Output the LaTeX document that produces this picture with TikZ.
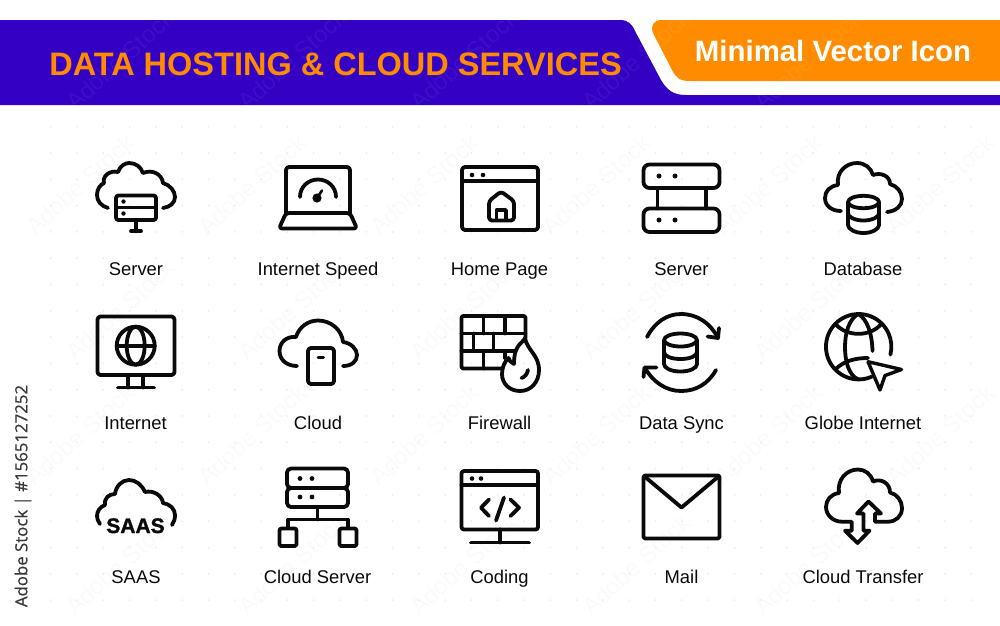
\documentclass[tikz,border=0pt]{standalone}
\usepackage{fontspec}
\setmainfont{Liberation Sans}
\newfontfamily\sidefont{Open Sans}
\definecolor{bannerblue}{HTML}{3300C4}
\definecolor{bannerorange}{HTML}{FF8C00}
\definecolor{inkblack}{HTML}{0A0A0A}
\tikzset{
  ico/.style={draw=inkblack,line width=3.8pt,line cap=round,line join=round},
  icofill/.style={fill=inkblack,draw=none},
  lab/.style={text=inkblack,font=\fontsize{18.4}{20}\selectfont,anchor=base,inner sep=0pt},
  griddot/.style={fill=black!8,draw=none},
  wmark/.style={font=\fontsize{24}{24}\selectfont,rotate=42,inner sep=0pt},
}
\begin{document}
\begin{tikzpicture}[x=1pt,y=-1pt]
\useasboundingbox (0,0) rectangle (1000,625);
\fill[white] (0,0) rectangle (1000,625);
% faint marks and dots
\foreach \a in {0,...,5}{\foreach \b in {185,435}{
  \node[wmark,text=black,opacity=.02] (wma\a\b) at ({80+\a*172},\b) {Adobe Stock};
}}
\foreach \a in {0,...,4}{\foreach \b in {310,565}{
  \node[wmark,text=black,opacity=.02] (wmb\a\b) at ({120+\a*172},\b) {Adobe Stock};
}}
\foreach \i in {0,...,35}{\foreach \j in {0,...,18}{
  \fill[griddot] ({50.7+\i*26.3},{126.7+\j*26.3}) circle (1);
}}
% banner
\fill[bannerblue] (0,20) -- (620,20) .. controls (628,20) and (632,24) .. (635,31)
  -- (661,80) .. controls (667,90) and (673,95) .. (686,95) -- (1000,95) -- (1000,105) -- (0,105) -- cycle;
\fill[bannerorange] (661,20) -- (1000,20) -- (1000,81) -- (690,81)
  .. controls (680,81) and (676,78) .. (672,70) -- (653,33) .. controls (650,26) and (654,20) .. (661,20) -- cycle;
\foreach \a in {0,...,4}{
  \node[wmark,text=white,opacity=.05] (wmc\a) at ({120+\a*172},60) {Adobe Stock};
}
\node[inner sep=0pt,anchor=base,text=bannerorange,font=\fontsize{32.5}{34}\selectfont\bfseries] (title) at (335.5,75) {DATA HOSTING \& CLOUD SERVICES};
\node[inner sep=0pt,anchor=base,text=white,font=\fontsize{29.4}{31}\selectfont\bfseries] (subtitle) at (833,61.5) {Minimal Vector Icon};
\node[inner sep=0pt,rotate=90,text=black!78,font=\sidefont\fontsize{16.8}{20}\selectfont] (side) at (23,496) {\addfontfeatures{FakeBold=0.6}Adobe Stock | \#1565127252};
% labels
\node[lab] (l11) at (136,275) {Server};
\node[lab] (l12) at (318,275) {Internet Speed};
\node[lab] (l13) at (499.5,275) {Home Page};
\node[lab] (l14) at (681.5,275) {Server};
\node[lab] (l15) at (863,275) {Database};
\node[lab] (l21) at (135.5,429) {Internet};
\node[lab] (l22) at (318,429) {Cloud};
\node[lab] (l23) at (499.5,429) {Firewall};
\node[lab] (l24) at (681.5,429) {Data Sync};
\node[lab] (l25) at (863,429) {Globe Internet};
\node[lab] (l31) at (136,583) {SAAS};
\node[lab] (l32) at (317.5,583) {Cloud Server};
\node[lab] (l33) at (499.5,583) {Coding};
\node[lab] (l34) at (681.5,583) {Mail};
\node[lab] (l35) at (863,583) {Cloud Transfer};
% 1 server cloud
\draw[ico] (108,208) .. controls (101,206) and (97,201) .. (97,195) .. controls (97,189) and (100,185) .. (104,183)
  .. controls (102,176) and (110,170) .. (118,172) .. controls (120,166) and (125,163) .. (129,163)
  .. controls (136,163) and (141,167) .. (143,173) .. controls (152,169) and (162,174) .. (163,183)
  .. controls (170,185) and (175,191) .. (175,197) .. controls (175,203) and (170,207) .. (163,208);
\draw[ico,rounded corners=2.5] (116,195.5) rectangle (156,220);
\draw[ico] (116,207.5) -- (156,207.5);
\fill[icofill] (123.5,201.5) circle (2.2) (123.5,213.5) circle (2.2);
\draw[ico] (136,220) -- (136,231) (131,231) -- (141,231);
% 2 laptop
\draw[ico,rounded corners=3] (286,213) -- (286,167) -- (350,167) -- (350,213);
\draw[ico,rounded corners=3] (286,213) -- (350,213) -- (357,228.5) -- (279,228.5) -- cycle;
\draw[ico] (300,197) .. controls (300,187) and (308,179.5) .. (318,179.5) .. controls (328,179.5) and (336,187) .. (336,197);
\fill[icofill] (317,198) circle (4.6);
\draw[ico,line width=2.6pt] (317,198) -- (322,190.5);
% 3 home page
\draw[ico,rounded corners=3] (462,167) rectangle (538,230);
\draw[ico] (462,181) -- (538,181);
\fill[icofill] (472,175) circle (2.3) (483,175) circle (2.3);
\draw[ico,rounded corners=3] (489,220.5) -- (489,201) -- (501,191.5) -- (514,201) -- (514,220.5) -- cycle;
\draw[ico] (496.5,220) -- (496.5,210) -- (506,210) -- (506,220);
% 4 server
\draw[ico,rounded corners=6] (643.5,164.5) rectangle (719.5,188);
\draw[ico,rounded corners=6] (643.5,208.5) rectangle (719.5,232);
\draw[ico] (657.5,188) -- (657.5,208.5) (706,188) -- (706,208.5);
\fill[icofill] (659,176) circle (2.5) (675,176) circle (2.5) (659,220) circle (2.5) (675,220) circle (2.5);
% 5 database cloud
\draw[ico] (841,211) .. controls (832,211) and (825,206) .. (825,198) .. controls (825,191) and (830,186) .. (838,185)
  .. controls (836,172) and (846,163) .. (857,163) .. controls (865,163) and (871,168) .. (873,175)
  .. controls (881,172) and (890,176) .. (890,184) .. controls (897,186) and (902,192) .. (902,199)
  .. controls (902,206) and (896,211) .. (887,212);
\draw[ico] (863.5,202) ellipse (15.5 and 6.2);
\draw[ico] (848,202) -- (848,225) .. controls (848,229) and (855,233) .. (863.5,233) .. controls (872,233) and (879,229) .. (879,225) -- (879,202);
\draw[ico] (848,213.5) .. controls (848,217) and (855,220.5) .. (863.5,220.5) .. controls (872,220.5) and (879,217) .. (879,213.5);
% 6 monitor
\draw[ico,rounded corners=3] (97.5,316.5) rectangle (174.5,375);
\draw[ico] (128,375) -- (128,387.5) (143,375) -- (143,387.5) (118,387.5) -- (154,387.5);
\draw[ico] (135.7,345.7) circle (19);
\draw[ico] (135.7,345.7) ellipse (9 and 19);
\draw[ico] (116.7,345.7) -- (154.7,345.7);
% 7 cloud phone
\draw[ico] (297,366) .. controls (287,366) and (279.5,360) .. (279.5,351) .. controls (279.5,342) and (287,336) .. (296,337)
  .. controls (299,327) and (308,320.5) .. (318,320.5) .. controls (331,320.5) and (342,330) .. (343,342)
  .. controls (351,343) and (357,349) .. (357,355) .. controls (357,361) and (352,366) .. (343,366);
\draw[ico,rounded corners=3] (308,348) rectangle (334,384);
\draw[ico,line width=3pt] (318,357) -- (323.5,357);
% 8 firewall
\draw[ico] (514,351) -- (461.5,351);
\draw[ico,rounded corners=2] (525.5,338) -- (525.5,316) -- (461.5,316) -- (461.5,368.5) -- (501.5,368.5);
\draw[ico] (461.5,333.5) -- (525.5,333.5);
\draw[ico] (483.5,316) -- (483.5,333.5) (505,316) -- (505,333.5)
  (473.5,333.5) -- (473.5,351) (493.5,333.5) -- (493.5,351) (483.5,351) -- (483.5,368.5) (505,351) -- (505,358);
\draw[ico] (525,338) .. controls (527,350) and (539,355) .. (539,370) .. controls (539,382) and (531,391) .. (520,391)
  .. controls (510,391) and (502,384) .. (502,374) .. controls (502,367) and (505,361) .. (508.5,358)
  .. controls (509,360) and (511,363) .. (514,364) .. controls (514,356) and (515,351) .. (518,346.5)
  .. controls (520,343) and (524,341) .. (525,338) -- cycle;
\draw[ico] (521.5,378) .. controls (525,377) and (527,374) .. (528,370);
% 9 data sync
\draw[ico] (647,337) .. controls (655,322) and (667,314) .. (681,314) .. controls (697,314) and (710,323) .. (717.5,337);
\draw[ico] (719,328) -- (718,338) -- (707.5,336.5);
\draw[ico] (716,370) .. controls (708,384) and (696,391) .. (681,391) .. controls (666,391) and (653,382) .. (645,368);
\draw[ico] (643.5,377) -- (644.5,367.5) -- (656.5,367.5);
\draw[ico] (680.5,340) ellipse (16.5 and 6.5);
\draw[ico] (664,340) -- (664,364) .. controls (664,368) and (671,371.5) .. (680.5,371.5) .. controls (690,371.5) and (697,368) .. (697,364) -- (697,340);
\draw[ico] (664,352) .. controls (664,356) and (671,359) .. (680.5,359) .. controls (690,359) and (697,356) .. (697,352);
% 10 globe internet
\draw[ico] (871.7,376.7) arc[start angle=66.5,end angle=374,radius=32.7];
\draw[ico] (858.3,379.4) .. controls (848,375) and (845,360) .. (845,346.7) .. controls (845,333) and (849,319) .. (858.3,314)
  .. controls (867,319) and (872,333) .. (872.5,351);
\draw[ico] (835.7,324.3) .. controls (847,337) and (870,337) .. (881,324.3);
\draw[ico] (835.7,369) .. controls (844,361) and (855,358) .. (868,358);
\draw[ico,line width=3.4pt] (868,361.7) -- (901.5,369.5) -- (885,375.5) -- (880,390) -- cycle;
% 11 saas cloud
\draw[ico] (100,524) .. controls (98,521) and (97,519) .. (97,516) .. controls (97,511) and (100,507) .. (105,505)
  .. controls (104,498) and (109,494) .. (115,494) .. controls (116,486) and (122,480) .. (129,480)
  .. controls (136,480) and (142,485) .. (145,492) .. controls (153,490) and (162,495) .. (163,503)
  .. controls (170,504) and (175,509) .. (175,515) .. controls (175,519) and (174,522) .. (172,525);
\node[inner sep=0pt,anchor=base,text=inkblack,font=\fontsize{21}{22}\selectfont\bfseries] (saas) at (135.5,533) {\addfontfeatures{FakeBold=1.5}SAAS};
% 12 cloud server
\draw[ico,rounded corners=4] (287,468.5) rectangle (348,488);
\draw[ico,rounded corners=4] (287,488) rectangle (348,507);
\fill[icofill] (300,478.5) circle (2.4) (312,478.5) circle (2.4) (300,497) circle (2.4) (312,497) circle (2.4);
\draw[ico] (317.5,507) -- (317.5,519.5);
\draw[ico] (288,528) -- (288,519.5) -- (348,519.5) -- (348,528);
\draw[ico,rounded corners=2] (279.5,528.5) rectangle (296.5,546);
\draw[ico,rounded corners=2] (339.5,528.5) rectangle (356.5,546);
% 13 coding
\draw[ico,rounded corners=2.5] (461.5,471) rectangle (538,529.5);
\draw[ico] (461.5,485) -- (538,485);
\fill[icofill] (472,478.5) circle (2.3) (481,478.5) circle (2.3);
\draw[ico] (489,499.5) -- (481,507.7) -- (489,516);
\draw[ico] (510.5,499.5) -- (519,507.7) -- (510.5,516);
\draw[ico] (504,497.5) -- (496,520.5);
\draw[ico] (500,529.5) -- (500,542.5) (471,542.5) -- (529,542.5);
% 14 mail
\draw[ico,rounded corners=1.5] (643.5,475.5) rectangle (719.5,538.5);
\draw[ico] (644,476) -- (681.5,507.5) -- (719,476);
% 15 cloud transfer
\draw[ico] (851.7,521.7) -- (842,521.7) .. controls (833,521.7) and (826,515) .. (826,507) .. controls (826,500) and (831,494) .. (839,493)
  .. controls (837,480) and (846,469.5) .. (858,469.5) .. controls (865,469.5) and (871,474) .. (873,481.5)
  .. controls (881,478) and (890,483) .. (890,492.5) .. controls (897,494) and (902,501) .. (902,508)
  .. controls (902,516) and (896,521.7) .. (888,521.7) -- (875,521.7) -- (875,513.5) -- (881,513.5) -- (868.5,501.5)
  -- (857,513.5) -- (863.5,513.5) -- (863.5,530.7) -- (869.5,530.7) -- (857.5,543) -- (845,530.7) -- (851.7,530.7) -- cycle;
\end{tikzpicture}
\end{document}
